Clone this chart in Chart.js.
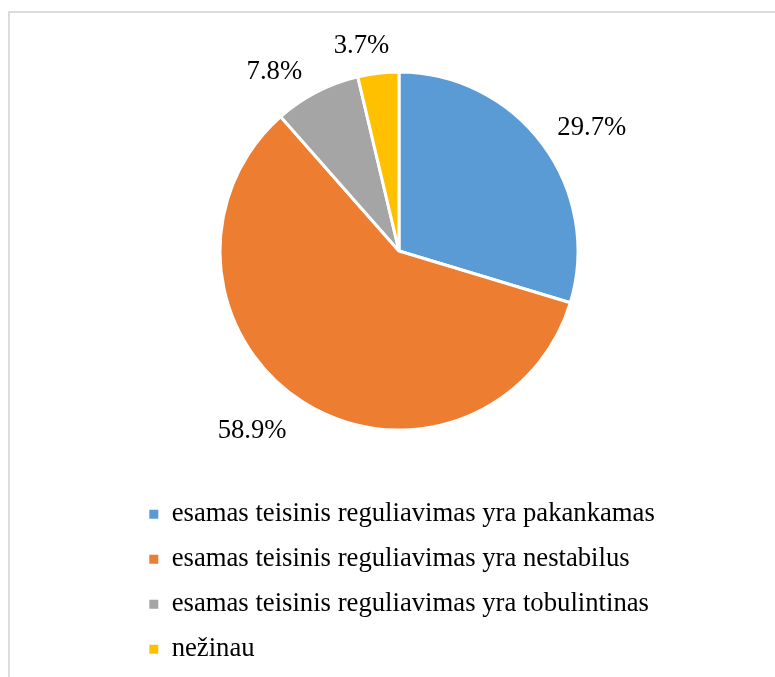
<!DOCTYPE html>
<html>
<head>
<meta charset="utf-8">
<script src="https://cdn.jsdelivr.net/npm/chart.js@4/dist/chart.umd.min.js"></script>
<style>
  html, body { margin: 0; padding: 0; background: #fff; overflow: hidden; }
  body { width: 775px; height: 677px; position: relative; }
  #frame {
    position: absolute; left: 8px; top: 11px; width: 800px; height: 700px;
    border-left: 2px solid #dcdcdc; border-top: 2px solid #dcdcdc;
  }
  #wrap { position: absolute; left: 131px; top: 0; width: 536px; height: 677px; }
</style>
</head>
<body>
<div id="frame"></div>
<div id="wrap"><canvas id="myChart"></canvas></div>
<script>
var labels = [
  "esamas teisinis reguliavimas yra pakankamas",
  "esamas teisinis reguliavimas yra nestabilus",
  "esamas teisinis reguliavimas yra tobulintinas",
  "nežinau"
];
var values = [29.7, 58.9, 7.8, 3.7];
var colors = ["#5b9bd5", "#ed7d31", "#a5a5a5", "#ffc000"];

var fontFamily = "'Liberation Serif', 'Times New Roman', serif";
var fontSize = 26.7;

// percent labels outside the slices (best-fit style nudge in degrees)
var outsideLabels = {
  id: "outsideLabels",
  afterDatasetsDraw(chart, args, opts) {
    var ctx = chart.ctx;
    var arcs = chart.getDatasetMeta(0).data;
    ctx.save();
    ctx.font = fontSize + "px " + fontFamily;
    ctx.fillStyle = "#000";
    ctx.textAlign = "center";
    ctx.textBaseline = "middle";
    arcs.forEach(function (arc, i) {
      var p = arc.getProps(["x", "y", "startAngle", "endAngle", "outerRadius"], true);
      var mid = (p.startAngle + p.endAngle) / 2 + (opts.nudge[i] || 0) * Math.PI / 180;
      var txt = values[i].toFixed(1) + "%";
      var w = ctx.measureText(txt).width;
      var h = Math.sin(mid) > 0 ? 40 : 18;
      var d = p.outerRadius + 16 + Math.abs(Math.cos(mid)) * w / 2 + Math.abs(Math.sin(mid)) * h / 2;
      ctx.fillText(txt, p.x + Math.cos(mid) * d, p.y + Math.sin(mid) * d);
    });
    ctx.restore();
  }
};

var ctx = document.getElementById("myChart");
var myChart = new Chart(ctx, {
  type: "pie",
  data: {
    labels: labels,
    datasets: [
      {
        data: values,
        backgroundColor: colors,
        borderColor: "#ffffff",
        borderWidth: 3
      }
    ]
  },
  options: {
    responsive: true,
    maintainAspectRatio: false,
    animation: false,
    radius: 179,
    layout: { padding: { top: 19.5, bottom: 4.5 } },
    plugins: {
      tooltip: { enabled: false },
      outsideLabels: { nudge: [4, 6.5, -7.5, -3.7] },
      legend: {
        position: "bottom",
        align: "start",
        labels: {
          boxWidth: 9,
          boxHeight: 9,
          padding: 18.3,
          color: "#000",
          font: { family: fontFamily, size: fontSize },
          generateLabels(chart) {
            var items = Chart.overrides.pie.plugins.legend.labels.generateLabels(chart);
            items.forEach(function (it) { it.lineWidth = 0; it.strokeStyle = it.fillStyle; });
            return items;
          }
        }
      }
    }
  },
  plugins: [outsideLabels]
});
</script>
</body>
</html>
